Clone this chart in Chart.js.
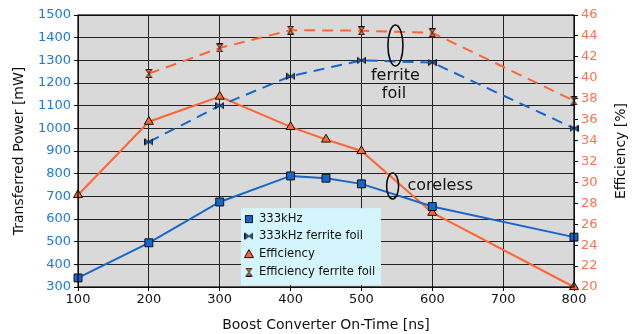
<!DOCTYPE html>
<html>
<head>
<meta charset="utf-8">
<script src="https://cdn.jsdelivr.net/npm/chart.js@4/dist/chart.umd.min.js"></script>
<style>
html,body{margin:0;padding:0;background:#fff;}
#wrap{width:637px;height:334px;position:relative;}
</style>
</head>
<body>
<div id="wrap"><canvas id="c" width="637" height="334"></canvas></div>
<script>
// ---- data ----
const onTimes = [100, 200, 300, 400, 450, 500, 600, 800];
const power333 = [340, 495, 675, 790, 780, 755, 655, 520];
const foilTimes = [200, 300, 400, 500, 600, 800];
const power333Foil = [940, 1100, 1230, 1300, 1290, 1000];
const efficiency = [28.8, 35.8, 38.2, 35.3, 34.1, 33.0, 27.1, 20.0];
const efficiencyFoil = [40.4, 42.85, 44.55, 44.5, 44.3, 37.8];
const xTicks = [100, 200, 300, 400, 500, 600, 700, 800];
const labels = ['333kHz', '333kHz ferrite foil', 'Efficiency', 'Efficiency ferrite foil'];

const BLUE = '#1666cc';
const ORANGE = '#ff6633';
const BLUE_TXT = '#1f78e0';
const ORANGE_TXT = '#ff7050';
const FONT = "'DejaVu Sans', sans-serif";

function makeMarker(kind, fill, size) {
  const c = document.createElement('canvas');
  c.width = size; c.height = size;
  const g = c.getContext('2d');
  const s = size, m = 0.5, mid = s / 2;
  g.fillStyle = fill; g.strokeStyle = '#111'; g.lineWidth = 1;
  g.beginPath();
  if (kind === 'bowtie') {
    g.moveTo(m, m + 1); g.lineTo(mid, mid); g.lineTo(m, s - m - 1); g.closePath();
    g.moveTo(s - m, m + 1); g.lineTo(mid, mid); g.lineTo(s - m, s - m - 1); g.closePath();
  } else {
    g.moveTo(m + 1, m); g.lineTo(s - m - 1, m); g.lineTo(mid, mid); g.closePath();
    g.moveTo(m + 1, s - m); g.lineTo(s - m - 1, s - m); g.lineTo(mid, mid); g.closePath();
  }
  g.fill(); g.stroke();
  return c;
}
const bowtie = makeMarker('bowtie', BLUE, 9);
const hourglass = makeMarker('hourglass', ORANGE, 9);

const xy = (xs, ys) => xs.map((x, i) => ({x: x, y: ys[i]}));

const bgPlugin = {
  id: 'bg',
  beforeDraw(chart) {
    const {ctx, chartArea: a} = chart;
    ctx.save();
    ctx.fillStyle = '#d9d9d9';
    ctx.fillRect(a.left, a.top, a.right - a.left, a.bottom - a.top);
    ctx.restore();
  },
  afterDraw(chart) {
    const {ctx, chartArea: a, scales} = chart;
    const xs = scales.x, ys = scales.y;
    ctx.save();
    // frame
    ctx.strokeStyle = '#000'; ctx.lineWidth = 1.2;
    ctx.strokeRect(a.left, a.top, a.right - a.left, a.bottom - a.top);
    // y axis titles (read bottom-to-top)
    ctx.fillStyle = '#111';
    ctx.font = '14px ' + FONT;
    ctx.textAlign = 'center'; ctx.textBaseline = 'middle';
    const cy = (a.top + a.bottom) / 2;
    ctx.save(); ctx.translate(19, cy); ctx.rotate(-Math.PI / 2);
    ctx.fillText('Transferred Power [mW]', 0, 0); ctx.restore();
    ctx.save(); ctx.translate(621, cy); ctx.rotate(-Math.PI / 2);
    ctx.fillText('Efficiency [%]', 0, 0); ctx.restore();
    // annotations
    ctx.strokeStyle = '#000'; ctx.lineWidth = 1.5;
    ctx.beginPath();
    ctx.ellipse(xs.getPixelForValue(548), ys.getPixelForValue(1365), 7.5, 20.5, 0, 0, Math.PI * 2);
    ctx.stroke();
    ctx.beginPath();
    ctx.ellipse(xs.getPixelForValue(544), ys.getPixelForValue(746), 6, 13, 0, 0, Math.PI * 2);
    ctx.stroke();
    ctx.fillStyle = '#111';
    ctx.font = '16px ' + FONT;
    ctx.textAlign = 'center'; ctx.textBaseline = 'middle';
    ctx.fillText('ferrite', xs.getPixelForValue(548), ys.getPixelForValue(1232));
    ctx.fillText('foil', xs.getPixelForValue(546), ys.getPixelForValue(1150));
    ctx.textAlign = 'left';
    ctx.fillText('coreless', xs.getPixelForValue(565), ys.getPixelForValue(746));
    // legend
    const lx = xs.getPixelForValue(330), ly = ys.getPixelForValue(648);
    const lw = 140, lh = 77;
    ctx.fillStyle = '#d4f5fb';
    ctx.fillRect(lx, ly, lw, lh);
    ctx.font = '11.6px ' + FONT;
    ctx.textBaseline = 'middle';
    const rowY = [ly + 11, ly + 28, ly + 46, ly + 64];
    chart.data.datasets.forEach((ds, i) => {
      const mx = lx + 8, my = rowY[i];
      const ps = ds.pointStyle;
      if (ps === 'rect') {
        ctx.fillStyle = ds.pointBackgroundColor; ctx.strokeStyle = '#111'; ctx.lineWidth = 1;
        ctx.fillRect(mx - 3.5, my - 3.5, 7, 7); ctx.strokeRect(mx - 3.5, my - 3.5, 7, 7);
      } else if (ps === 'triangle') {
        ctx.fillStyle = ds.pointBackgroundColor; ctx.strokeStyle = '#111'; ctx.lineWidth = 1;
        ctx.beginPath(); ctx.moveTo(mx, my - 4.5); ctx.lineTo(mx + 4.5, my + 3.5); ctx.lineTo(mx - 4.5, my + 3.5); ctx.closePath();
        ctx.fill(); ctx.stroke();
      } else {
        ctx.drawImage(ps, mx - 4.5, my - 4.5, 9, 9);
      }
      ctx.fillStyle = '#111';
      ctx.fillText(ds.label, lx + 18, my);
    });
    ctx.restore();
  }
};

const plain = v => String(v);

new Chart(document.getElementById('c'), {
  type: 'line',
  data: {
    datasets: [
      {label: labels[0], data: xy(onTimes, power333), yAxisID: 'y', borderColor: BLUE, borderWidth: 2,
       pointStyle: 'rect', pointRadius: 5.6, pointBackgroundColor: BLUE, pointBorderColor: '#111', pointBorderWidth: 1},
      {label: labels[1], data: xy(foilTimes, power333Foil), yAxisID: 'y', borderColor: BLUE, borderWidth: 2,
       borderDash: [11, 7], pointStyle: bowtie, pointRadius: 4.5, pointBackgroundColor: BLUE},
      {label: labels[2], data: xy(onTimes, efficiency), yAxisID: 'y1', borderColor: ORANGE, borderWidth: 2,
       pointStyle: 'triangle', pointRadius: 5.2, pointBackgroundColor: ORANGE, pointBorderColor: '#111', pointBorderWidth: 1},
      {label: labels[3], data: xy(foilTimes, efficiencyFoil), yAxisID: 'y1', borderColor: ORANGE, borderWidth: 2,
       borderDash: [11, 7], pointStyle: hourglass, pointRadius: 4.5, pointBackgroundColor: ORANGE}
    ]
  },
  options: {
    responsive: false,
    animation: false,
    clip: false,
    layout: {padding: {top: 15, left: 0, right: 0, bottom: 0}},
    plugins: {legend: {display: false}, tooltip: {enabled: false}},
    scales: {
      x: {
        type: 'linear', min: 100, max: 800,
        afterBuildTicks: s => { s.ticks = xTicks.map(v => ({value: v})); },
        afterFit: s => { s.height = 47; },
        ticks: {color: '#111', font: {family: FONT, size: 13}, padding: 1, maxRotation: 0, callback: plain},
        grid: {color: '#222', lineWidth: 1, tickLength: 4, tickColor: '#000'},
        border: {display: false},
        title: {display: true, text: 'Boost Converter On-Time [ns]', color: '#111', font: {family: FONT, size: 14}, padding: {top: 0, bottom: 0}}
      },
      y: {
        position: 'left', min: 300, max: 1500,
        ticks: {stepSize: 100, color: BLUE_TXT, font: {family: FONT, size: 13}, padding: 3, callback: plain},
        afterFit: s => { s.width = 78; },
        grid: {color: '#222', lineWidth: 1, tickLength: 4, tickColor: '#000'},
        border: {display: false},
        title: {display: false}
      },
      y1: {
        position: 'right', min: 20, max: 46,
        ticks: {stepSize: 2, color: ORANGE_TXT, font: {family: FONT, size: 13}, padding: 3, callback: plain},
        afterFit: s => { s.width = 63; },
        grid: {drawOnChartArea: false, tickLength: 4, tickColor: '#000'},
        border: {display: false},
        title: {display: false}
      }
    }
  },
  plugins: [bgPlugin]
});
</script>
</body>
</html>
